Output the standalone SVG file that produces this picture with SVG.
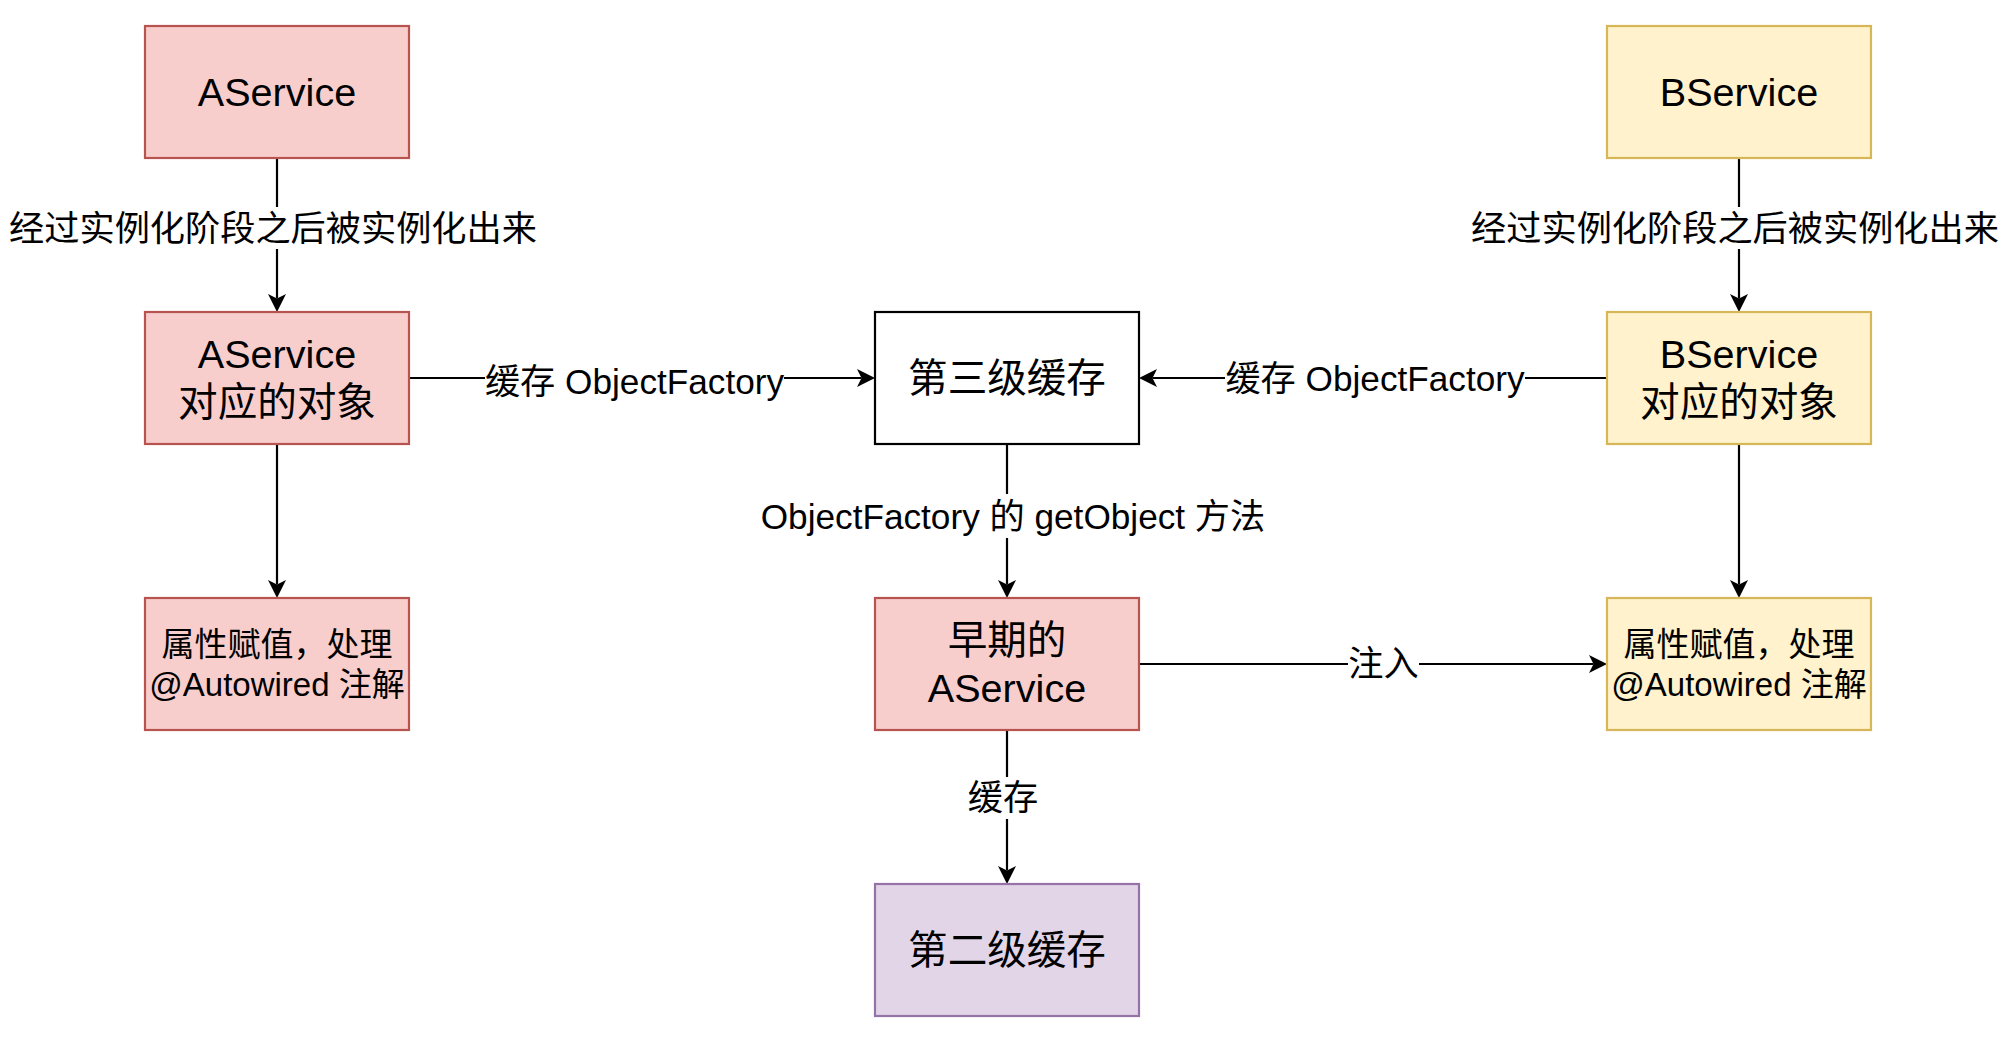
<svg xmlns="http://www.w3.org/2000/svg" width="2008" height="1040" viewBox="0 0 2008 1040">
  <style>
    .box { stroke-width: 2.2; }
    .red { fill: #f8cecc; stroke: #b85450; }
    .yellow { fill: #fff2cc; stroke: #d6b656; }
    .purple { fill: #e1d5e7; stroke: #9673a6; }
    .plain { fill: #ffffff; stroke: #000000; }
    text { font-family: "Liberation Sans", "Noto Sans CJK SC", sans-serif; fill: #000000; text-anchor: middle; }
    .big { font-size: 39.6px; }
    .mid { font-size: 33px; }
    .lbl { font-size: 35.2px; }
    .edge { fill: none; stroke: #000000; stroke-width: 2.2; }
    .lblbg { fill: #ffffff; stroke: none; }
  </style>
  <defs>
    <marker id="arrow" viewBox="0 0 18 18" refX="4.5" refY="9" markerWidth="18" markerHeight="18" markerUnits="userSpaceOnUse" orient="auto">
      <path d="M0,0 L18,9 L0,18 L4.5,9 Z" fill="#000000"/>
    </marker>
  </defs>
  <rect width="2008" height="1040" fill="#ffffff"/>

  <!-- connectors -->
  <g id="connectors">
    <path class="edge" d="M277,158 V298.5" marker-end="url(#arrow)"/>
    <path class="edge" d="M277,444 V584.5" marker-end="url(#arrow)"/>
    <path class="edge" d="M409,378 H861.5" marker-end="url(#arrow)"/>
    <path class="edge" d="M1607,378 H1152.5" marker-end="url(#arrow)"/>
    <path class="edge" d="M1739,158 V298.5" marker-end="url(#arrow)"/>
    <path class="edge" d="M1739,444 V584.5" marker-end="url(#arrow)"/>
    <path class="edge" d="M1007,444 V584.5" marker-end="url(#arrow)"/>
    <path class="edge" d="M1139,664 H1593.5" marker-end="url(#arrow)"/>
    <path class="edge" d="M1007,730 V870.5" marker-end="url(#arrow)"/>

    <rect class="lblbg" x="8" y="207" width="530" height="42"/>
    <text class="lbl" x="273" y="240.5">经过实例化阶段之后被实例化出来</text>

    <rect class="lblbg" x="1470" y="207" width="530" height="42"/>
    <text class="lbl" x="1735" y="240.5">经过实例化阶段之后被实例化出来</text>

    <rect class="lblbg" x="485" y="360" width="299" height="42"/>
    <text class="lbl" x="634.5" y="393.5">缓存 ObjectFactory</text>

    <rect class="lblbg" x="1225" y="357" width="300" height="42"/>
    <text class="lbl" x="1375" y="390.5">缓存 ObjectFactory</text>

    <rect class="lblbg" x="760" y="494" width="506" height="44"/>
    <text class="lbl" x="1013" y="529">ObjectFactory 的 getObject 方法</text>

    <rect class="lblbg" x="1348" y="643" width="71" height="42"/>
    <text class="lbl" x="1383.5" y="676">注入</text>

    <rect class="lblbg" x="968" y="777" width="70" height="42"/>
    <text class="lbl" x="1003" y="810">缓存</text>
  </g>

  <!-- left column: AService -->
  <g id="aservice">
    <rect class="box red" x="145" y="26" width="264" height="132"/>
    <text class="big" x="277" y="106">AService</text>
  </g>
  <g id="aservice-object">
    <rect class="box red" x="145" y="312" width="264" height="132"/>
    <text class="big" x="277" y="368">AService</text>
    <text class="big" x="277" y="416">对应的对象</text>
  </g>
  <g id="aservice-populate">
    <rect class="box red" x="145" y="598" width="264" height="132"/>
    <text class="mid" x="277" y="656">属性赋值，处理</text>
    <text class="mid" x="277" y="696">@Autowired 注解</text>
  </g>

  <!-- middle column: caches -->
  <g id="third-level-cache">
    <rect class="box plain" x="875" y="312" width="264" height="132"/>
    <text class="big" x="1007" y="392">第三级缓存</text>
  </g>
  <g id="early-aservice">
    <rect class="box red" x="875" y="598" width="264" height="132"/>
    <text class="big" x="1007" y="654">早期的</text>
    <text class="big" x="1007" y="702">AService</text>
  </g>
  <g id="second-level-cache">
    <rect class="box purple" x="875" y="884" width="264" height="132"/>
    <text class="big" x="1007" y="964">第二级缓存</text>
  </g>

  <!-- right column: BService -->
  <g id="bservice">
    <rect class="box yellow" x="1607" y="26" width="264" height="132"/>
    <text class="big" x="1739" y="106">BService</text>
  </g>
  <g id="bservice-object">
    <rect class="box yellow" x="1607" y="312" width="264" height="132"/>
    <text class="big" x="1739" y="368">BService</text>
    <text class="big" x="1739" y="416">对应的对象</text>
  </g>
  <g id="bservice-populate">
    <rect class="box yellow" x="1607" y="598" width="264" height="132"/>
    <text class="mid" x="1739" y="656">属性赋值，处理</text>
    <text class="mid" x="1739" y="696">@Autowired 注解</text>
  </g>
</svg>
